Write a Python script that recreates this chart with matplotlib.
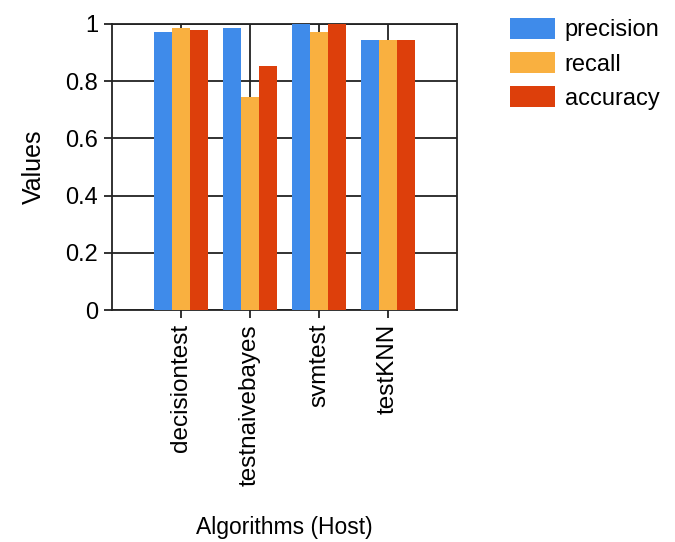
import numpy as np
import matplotlib
matplotlib.use("Agg")
import matplotlib.pyplot as plt

plt.rcParams['font.family'] = ['Liberation Sans', 'DejaVu Sans']

# datos
algoritmos = ["decisiontest", "testnaivebayes", "svmtest", "testKNN"]
precision = [0.970, 0.985, 1.0, 0.944]
recall = [0.985, 0.744, 0.970, 0.944]
accuracy = [0.978, 0.852, 1.0, 0.944]
series = ["precision", "recall", "accuracy"]
colores = ["#3F8BEA", "#F9B040", "#DD3F0B"]

fig = plt.figure(figsize=(6.75, 5.42), dpi=100)
ax = fig.add_axes([0.166, 0.428, 0.511, 0.528])

x = np.arange(1, len(algoritmos) + 1)
ancho = 0.26
for i, (vals, nombre) in enumerate(zip([precision, recall, accuracy], series)):
    ax.bar(x + (i - 1) * ancho, vals, ancho, color=colores[i], label=nombre, zorder=3)

ax.set_xlim(0, 5)
ax.set_ylim(0, 1)
ax.set_xticks(x)
ax.set_xticklabels(algoritmos, rotation=90, fontsize=17.5)
ax.set_yticks(np.arange(0, 1.01, 0.2))
ax.set_yticklabels(["0", "0.2", "0.4", "0.6", "0.8", "1"], fontsize=17)
ax.grid(True, color="#222222", linewidth=1.3, zorder=0)
ax.tick_params(direction="out", length=6, width=1.3, color="#222222", pad=4)
for s in ax.spines.values():
    s.set_color("#222222")
    s.set_linewidth(1.3)

ax.set_ylabel("Values", fontsize=18, labelpad=14)
ax.set_xlabel("Algorithms (Host)", fontsize=16.5, labelpad=22)

fig.legend(loc="upper left", bbox_to_anchor=(0.742, 0.985), frameon=False,
           fontsize=17, handlelength=1.9, handleheight=1.0, labelspacing=0.45,
           handletextpad=0.4, borderaxespad=0)

plt.savefig("out.png", dpi=100)
